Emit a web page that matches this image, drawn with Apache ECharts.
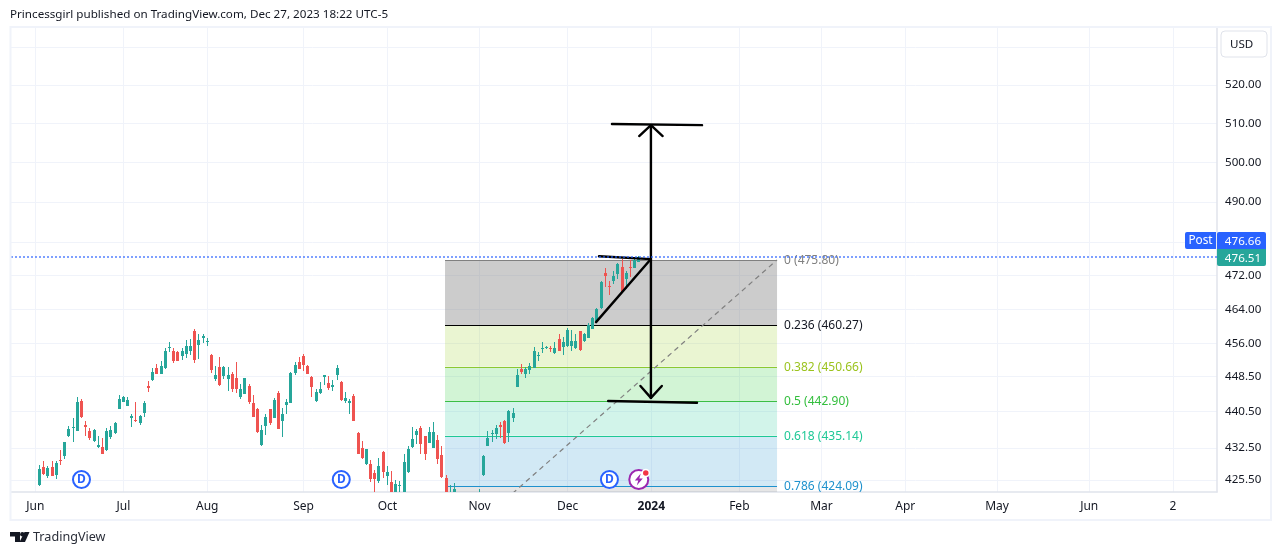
<!DOCTYPE html>
<html>
<head>
<meta charset="utf-8">
<title>SPY</title>
<script src="https://cdn.jsdelivr.net/npm/echarts@6/dist/echarts.min.js"></script>
<style>
html, body { margin: 0; padding: 0; background: #fff; }
#main { width: 1281px; height: 555px; }
</style>
</head>
<body>
<div id="main"></div>
<script>
var uiFont = '"Noto Sans", sans-serif';

var opens = [418.0,
    424.3, 428.4, 426.4, 428.4, 426.5, 429.9, 430.8, 435.1, 437.0, 436.1,
    442.9, 437.6, 436.2, 433.9, 432.7, 432.7, 432.1, 434.9, 435.8, 441.1,
    442.7, 441.8, 439.1, 438.7, 438.0, 440.2, 446.3, 447.7, 450.4, 449.0,
    450.4, 455.0, 454.3, 454.1, 453.1, 453.6, 454.3, 458.9, 455.7, 457.3,
    456.4, 453.4, 447.9, 450.6, 448.6, 447.9, 449.0, 448.1, 443.8, 444.5,
    446.3, 442.5, 441.1, 433.2, 437.3, 441.1, 439.1, 444.7, 438.4, 442.0,
    442.5, 449.3, 451.8, 453.1, 450.9, 448.4, 442.9, 444.7, 448.4, 447.0,
    446.1, 448.8, 447.2, 442.9, 442.5, 444.0, 435.8, 432.5, 429.0, 429.0,
    427.0, 425.3, 431.6, 426.4, 425.1, 421.3, 424.3, 420.0, 427.3, 432.7,
    435.4, 436.9, 435.1, 433.6, 432.5, 434.3, 431.0, 426.0, 419.6, 422.6,
    421.9, 416.5, 414.2, 413.6, 416.2, 419.2, 426.5, 433.0, 435.6, 435.6,
    437.6, 438.4, 435.8, 439.1, 446.1, 450.2, 449.0, 450.0, 450.4, 453.1,
    454.9, 455.0, 455.0, 453.8, 457.1, 455.2, 455.5, 455.5, 455.0, 458.9,
    456.6, 457.3, 459.4, 461.3, 464.3, 472.7, 469.6, 470.8, 472.4, 474.1,
    471.2, 474.0, 473.9, 475.3];
var closes = [421.8,
    427.9, 426.8, 428.1, 426.4, 429.2, 429.6, 433.8, 436.7, 437.1, 442.7,
    439.3, 437.0, 434.7, 436.5, 433.2, 431.2, 436.2, 436.5, 438.0, 443.4,
    443.7, 443.2, 439.6, 438.4, 439.6, 442.5, 445.8, 449.5, 449.0, 450.9,
    454.3, 455.2, 452.0, 452.0, 454.2, 455.5, 455.5, 452.2, 456.9, 457.8,
    456.6, 450.0, 448.8, 446.5, 450.6, 448.8, 445.6, 445.6, 445.6, 448.1,
    442.7, 439.3, 436.0, 436.5, 439.3, 438.0, 443.2, 436.7, 440.0, 442.7,
    449.3, 451.1, 450.2, 451.1, 449.0, 446.1, 444.9, 445.6, 448.7, 445.8,
    446.5, 450.4, 443.2, 443.6, 442.8, 438.4, 431.2, 430.3, 432.3, 425.8,
    425.8, 428.6, 427.3, 427.3, 421.6, 424.7, 424.5, 429.4, 432.3, 434.5,
    436.2, 433.4, 431.2, 436.0, 436.0, 430.1, 426.2, 421.2, 420.5, 423.5,
    417.6, 412.6, 410.7, 415.6, 418.2, 422.7, 430.7, 434.7, 435.8, 436.9,
    437.1, 433.6, 440.7, 440.2, 448.8, 449.5, 450.2, 450.9, 454.3, 453.4,
    455.1, 455.2, 454.7, 455.0, 454.3, 456.4, 459.2, 456.6, 456.6, 454.5,
    458.2, 460.3, 462.0, 464.1, 470.5, 472.0, 469.4, 472.0, 474.8, 468.1,
    472.7, 473.8, 475.8, 476.5];
var lows = [417.0,
    424.1, 426.5, 426.0, 426.3, 425.8, 428.8, 430.1, 434.8, 433.7, 436.1,
    439.0, 435.2, 434.3, 433.7, 432.5, 431.2, 431.9, 434.5, 435.6, 441.1,
    442.6, 441.8, 437.1, 438.2, 437.6, 439.3, 444.9, 447.4, 449.0, 449.0,
    450.2, 454.1, 451.6, 452.0, 452.2, 452.7, 453.4, 451.6, 452.5, 456.2,
    455.5, 449.3, 447.4, 446.3, 447.9, 445.2, 444.9, 444.7, 443.4, 444.5,
    442.3, 439.3, 435.8, 433.0, 435.4, 437.6, 439.1, 436.7, 434.9, 440.0,
    442.5, 448.8, 450.2, 449.7, 449.0, 443.8, 442.7, 444.5, 446.5, 445.4,
    445.2, 447.7, 442.9, 442.5, 440.0, 438.4, 431.2, 430.1, 428.8, 425.1,
    422.9, 424.9, 426.0, 424.5, 420.2, 420.0, 421.0, 417.8, 427.0, 432.5,
    433.4, 431.2, 429.9, 433.6, 432.5, 429.0, 426.0, 420.7, 417.5, 421.0,
    417.0, 411.6, 409.2, 412.2, 414.2, 418.4, 426.4, 433.0, 433.8, 434.5,
    434.7, 433.4, 433.8, 438.2, 446.1, 449.0, 448.1, 449.0, 450.4, 452.0,
    453.8, 454.8, 454.1, 453.6, 454.3, 453.4, 455.2, 454.3, 454.8, 454.3,
    456.4, 457.3, 459.4, 460.8, 464.1, 469.3, 467.4, 470.0, 471.2, 467.9,
    468.8, 471.8, 473.9, 475.3];
var highs = [422.0,
    428.8, 429.7, 428.6, 429.7, 429.7, 432.1, 433.8, 437.3, 439.1, 443.7,
    443.3, 438.4, 436.9, 436.7, 435.1, 434.7, 436.9, 437.3, 438.2, 444.3,
    444.0, 443.8, 440.0, 442.7, 439.8, 442.9, 447.4, 450.4, 451.3, 452.0,
    455.0, 456.4, 455.0, 454.3, 455.0, 456.9, 457.1, 459.4, 458.2, 458.2,
    457.3, 453.6, 450.9, 452.9, 450.9, 450.6, 449.5, 451.8, 446.7, 448.1,
    446.7, 444.3, 441.4, 437.6, 440.0, 441.1, 443.6, 445.2, 441.4, 443.4,
    449.5, 451.8, 452.9, 453.6, 451.1, 448.6, 445.6, 447.2, 448.8, 448.6,
    447.7, 451.1, 447.4, 444.9, 443.4, 444.5, 436.0, 434.0, 432.3, 429.9,
    427.7, 430.3, 431.8, 428.6, 427.5, 425.5, 425.3, 431.1, 433.0, 437.1,
    436.7, 437.3, 435.1, 437.1, 438.2, 435.4, 433.0, 426.5, 424.5, 424.8,
    421.9, 417.3, 414.6, 416.7, 418.5, 423.5, 431.0, 436.2, 436.5, 437.6,
    438.1, 438.7, 440.9, 441.4, 450.2, 451.3, 450.6, 451.6, 455.2, 454.1,
    456.4, 455.5, 455.5, 456.4, 458.2, 457.6, 459.6, 459.2, 458.2, 458.9,
    458.5, 460.8, 462.2, 464.3, 470.8, 473.9, 470.8, 473.2, 475.1, 476.0,
    473.2, 475.8, 476.0, 476.8];

// time scale
var tickBars = [0, 21, 41, 64, 84, 106, 127, 147, 168, 187.6, 207.6, 229.5, 251.5, 271.5];
var tickNames = ['Jun', 'Jul', 'Aug', 'Sep', 'Oct', 'Nov', 'Dec', '2024', 'Feb', 'Mar', 'Apr', 'May', 'Jun', '2'];

// price scale
var priceMin = 422.9;
var priceMax = 535.27;
var priceLabels = [425.5, 432.5, 440.5, 448.5, 456, 464, 472, 490, 500, 510, 520];
var priceGrid = [425.5, 432.5, 440.5, 448.5, 456, 464, 472, 480, 490, 500, 510, 520, 530];
var lastPrice = 476.66;

// fib retracement
var fibStart = 97.76;
var fibEnd = 177;
var fibLevels = ['0', '0.236', '0.382', '0.5', '0.618', '0.786', '1'];
var fibPrices = [475.80, 460.27, 450.66, 442.90, 435.14, 424.09, 410.00];
var fibLines = ['#808080', '#000000', '#8cc832', '#3cbe46', '#1ec896', '#1e91cd', '#808080'];
var fibText = ['#808080', '#131722', '#9bc31e', '#32be3c', '#1ec896', '#1e91cd', '#808080'];
var fibFills = ['rgba(128,128,128,0.4)', 'rgba(150,205,30,0.2)', 'rgba(30,200,45,0.2)', 'rgba(30,200,150,0.2)', 'rgba(30,145,205,0.2)', 'rgba(128,128,128,0.2)'];

// hand drawn lines on the chart: bar, price, bar, price
var sketchLines = [
    [137.6, 509.8, 159.1, 509.5],
    [146.9, 509.5, 146.9, 443.6],
    [144.1, 506.7, 146.9, 509.5],
    [149.7, 506.7, 146.9, 509.5],
    [144.4, 446.3, 146.9, 443.6],
    [149.5, 446.3, 146.9, 443.6],
    [136.7, 442.9, 157.9, 442.5],
    [133.8, 461.0, 146.9, 476.0],
    [134.5, 476.7, 146.9, 476.0]
];

// dividend and earnings-style event markers
var eventPrice = 425.6;
var dividendBars = [11, 73, 137];
var flashBars = [144];

var candleData = [];
for (var i = 0; i < opens.length; i++) {
    candleData.push([i, opens[i], closes[i], lows[i], highs[i]]);
}

var fibData = [];
for (var i = 0; i < fibPrices.length - 1; i++) {
    fibData.push([fibStart, fibPrices[i], i]);
}

// the built in candlestick rounds its boxes to 2 or 4 px here and does not clip them at the
// pane edge, so draw a steady 3 px body and 1 px wick instead
function renderCandle(params, api) {
    var bar = api.value(0);
    var open = api.value(1);
    var close = api.value(2);
    var color = close >= open ? '#26a69a' : '#ef5350';
    var x = Math.floor(api.coord([bar, open])[0]);
    var yHigh = Math.round(api.coord([bar, api.value(4)])[1]);
    var yLow = Math.round(api.coord([bar, api.value(3)])[1]);
    var yTop = Math.round(api.coord([bar, Math.max(open, close)])[1]);
    var yBottom = Math.round(api.coord([bar, Math.min(open, close)])[1]);
    return {
        type: 'group',
        children: [{
            type: 'rect',
            shape: { x: x, y: yHigh, width: 1, height: Math.max(yLow - yHigh, 1) },
            style: { fill: color }
        }, {
            type: 'rect',
            shape: { x: x - 1, y: yTop, width: 3, height: Math.max(yBottom - yTop, 1) },
            style: { fill: color }
        }]
    };
}

function renderFib(params, api) {
    var idx = api.value(2);
    var top = api.coord([fibStart, fibPrices[idx]]);
    var bottom = api.coord([fibEnd, fibPrices[idx + 1]]);
    var y = Math.round(top[1]) + 0.5;
    return {
        type: 'group',
        children: [{
            type: 'rect',
            shape: { x: top[0], y: y, width: bottom[0] - top[0], height: bottom[1] - y },
            style: { fill: fibFills[idx] }
        }, {
            type: 'line',
            shape: { x1: top[0], y1: y, x2: bottom[0], y2: y },
            style: { stroke: fibLines[idx], lineWidth: 1 }
        }, {
            type: 'text',
            x: bottom[0] + 7,
            y: y + 0.5,
            style: {
                text: fibLevels[idx] + ' (' + fibPrices[idx].toFixed(2) + ')',
                fill: fibText[idx],
                font: '12px ' + uiFont,
                verticalAlign: 'middle'
            }
        }]
    };
}

function renderFibTrend(params, api) {
    var a = api.coord([api.value(0), api.value(1)]);
    var b = api.coord([api.value(2), api.value(3)]);
    return {
        type: 'line',
        shape: { x1: a[0], y1: a[1], x2: b[0], y2: b[1] },
        style: { stroke: '#808080', lineWidth: 1.2, lineDash: [5, 4] }
    };
}

function renderSketch(params, api) {
    var a = api.coord([api.value(0), api.value(1)]);
    var b = api.coord([api.value(2), api.value(3)]);
    return {
        type: 'line',
        shape: { x1: a[0], y1: a[1], x2: b[0], y2: b[1] },
        style: { stroke: '#000000', lineWidth: 2.4, lineCap: 'round' }
    };
}

function renderFlash(params, api) {
    var c = api.coord([api.value(0), api.value(1)]);
    return {
        type: 'group',
        x: c[0],
        y: c[1],
        children: [{
            type: 'circle',
            shape: { cx: 0, cy: 0, r: 9.5 },
            style: { fill: '#ffffff', stroke: '#9c27b0', lineWidth: 2 }
        }, {
            type: 'polygon',
            shape: { points: [[2, -6], [-4, 1], [-0.5, 1], [-2, 6], [4, -1], [0.5, -1]] },
            style: { fill: '#9c27b0' }
        }, {
            type: 'circle',
            shape: { cx: 7, cy: -6.5, r: 3.5 },
            style: { fill: '#f23645', stroke: '#ffffff', lineWidth: 1.5 }
        }]
    };
}

var chart = echarts.init(document.getElementById('main'), null, { renderer: 'canvas' });

var option = {
    animation: false,
    backgroundColor: '#ffffff',
    textStyle: { fontFamily: uiFont },
    grid: { left: 11, right: 64, top: 28, bottom: 63, show: false },
    xAxis: {
        type: 'value',
        min: -5.823,
        max: 282,
        axisLine: { onZero: false, lineStyle: { color: '#e0e3eb', width: 1.5 } },
        axisTick: { show: false, customValues: tickBars },
        splitLine: { show: true, lineStyle: { color: '#f0f3fa', width: 1 } },
        axisLabel: {
            customValues: tickBars,
            margin: 9,
            color: '#131722',
            fontSize: 12,
            fontFamily: uiFont,
            hideOverlap: false,
            formatter: function (v) {
                var name = tickNames[tickBars.indexOf(v)];
                return name === '2024' ? '{b|2024}' : name;
            },
            rich: { b: { fontWeight: 'bold', fontSize: 12, color: '#131722', fontFamily: uiFont } }
        }
    },
    yAxis: {
        type: 'log',
        position: 'right',
        min: priceMin,
        max: priceMax,
        axisLine: { show: true, onZero: false, lineStyle: { color: '#e0e3eb', width: 1.5 } },
        axisTick: { show: false, customValues: priceGrid },
        splitLine: { show: true, lineStyle: { color: '#f0f3fa', width: 1 } },
        minorSplitLine: { show: false },
        axisLabel: {
            customValues: priceLabels,
            margin: 8,
            color: '#131722',
            fontSize: 11.6,
            fontFamily: uiFont,
            hideOverlap: false,
            padding: [2, 0, 0, 0],
            formatter: function (v) { return Number(v).toFixed(2); }
        }
    },
    series: [{
        type: 'custom',
        name: 'fib',
        z: 1,
        clip: true,
        renderItem: renderFib,
        encode: { x: 0, y: 1 },
        data: fibData,
        silent: true
    }, {
        type: 'custom',
        name: 'fibTrend',
        z: 1,
        clip: true,
        renderItem: renderFibTrend,
        encode: { x: [0, 2], y: [1, 3] },
        data: [[fibStart, fibPrices[6], fibEnd, fibPrices[0]]],
        silent: true
    }, {
        type: 'custom',
        name: 'SPY',
        z: 2,
        clip: true,
        renderItem: renderCandle,
        encode: { x: 0, y: [1, 2, 3, 4] },
        data: candleData,
        silent: true,
        markLine: {
            silent: true,
            symbol: 'none',
            label: { show: false },
            lineStyle: { color: '#2962ff', type: [2, 2], width: 1.5, opacity: 0.8 },
            data: [{ yAxis: lastPrice }]
        }
    }, {
        type: 'scatter',
        name: 'dividends',
        z: 3,
        symbol: 'circle',
        symbolSize: 17,
        itemStyle: { color: '#ffffff', borderColor: '#2962ff', borderWidth: 2, opacity: 1 },
        label: {
            show: true,
            position: 'inside',
            formatter: 'D',
            color: '#2962ff',
            fontSize: 12,
            fontWeight: 'bold',
            fontFamily: uiFont
        },
        data: dividendBars.map(function (b) { return [b, eventPrice]; }),
        silent: true
    }, {
        type: 'custom',
        name: 'flash',
        z: 3,
        renderItem: renderFlash,
        encode: { x: 0, y: 1 },
        data: flashBars.map(function (b) { return [b, eventPrice]; }),
        silent: true
    }, {
        type: 'custom',
        name: 'sketch',
        z: 4,
        renderItem: renderSketch,
        encode: { x: [0, 2], y: [1, 3] },
        data: sketchLines,
        silent: true
    }],
    graphic: [
        {
            type: 'rect', z: 100, silent: true,
            shape: { x: 10.5, y: 27, width: 1260.5, height: 493 },
            style: { fill: 'none', stroke: '#f0f3fa', lineWidth: 2 }
        },
        {
            type: 'text', z: 100, x: 10, y: 15, silent: true,
            style: {
                text: 'Princessgirl published on TradingView.com, Dec 27, 2023 18:22 UTC-5',
                fill: '#131722', font: '11.65px ' + uiFont, verticalAlign: 'middle'
            }
        },
        {
            type: 'rect', z: 100, silent: true,
            shape: { x: 1221, y: 31, width: 46, height: 26, r: 4 },
            style: { fill: '#ffffff', stroke: '#e0e3eb', lineWidth: 1 }
        },
        {
            type: 'text', z: 101, x: 1230, y: 45, silent: true,
            style: { text: 'USD', fill: '#131722', font: '11.6px ' + uiFont, verticalAlign: 'middle' }
        },
        {
            type: 'rect', z: 100, silent: true,
            shape: { x: 1185, y: 232, width: 31, height: 17, r: [2, 0, 0, 2] },
            style: { fill: '#2962ff' }
        },
        {
            type: 'text', z: 101, x: 1200.5, y: 241, silent: true,
            style: { text: 'Post', fill: '#ffffff', font: '11.8px ' + uiFont, align: 'center', verticalAlign: 'middle' }
        },
        {
            type: 'rect', z: 100, silent: true,
            shape: { x: 1217, y: 232, width: 49, height: 17, r: [2, 2, 0, 0] },
            style: { fill: '#2962ff' }
        },
        {
            type: 'text', z: 101, x: 1243, y: 242, silent: true,
            style: { text: '476.66', fill: '#ffffff', font: '11.6px ' + uiFont, align: 'center', verticalAlign: 'middle' }
        },
        {
            type: 'rect', z: 100, silent: true,
            shape: { x: 1217, y: 249, width: 49, height: 17, r: [0, 0, 2, 2] },
            style: { fill: '#26a69a' }
        },
        {
            type: 'text', z: 101, x: 1243, y: 259, silent: true,
            style: { text: '476.51', fill: '#ffffff', font: '11.6px ' + uiFont, align: 'center', verticalAlign: 'middle' }
        },
        // TradingView logo
        {
            type: 'polygon', z: 100, silent: true,
            shape: { points: [[10, 532], [20, 532], [20, 542], [15, 542], [15, 536.5], [10, 536.5]] },
            style: { fill: '#131722' }
        },
        {
            type: 'circle', z: 100, silent: true,
            shape: { cx: 22.3, cy: 534.2, r: 2.2 },
            style: { fill: '#131722' }
        },
        {
            type: 'polygon', z: 100, silent: true,
            shape: { points: [[24.5, 532], [29.5, 532], [25, 542], [19.5, 542]] },
            style: { fill: '#131722' }
        },
        {
            type: 'text', z: 100, x: 33, y: 537.5, silent: true,
            style: { text: 'TradingView', fill: '#2a2e39', font: '12.6px ' + uiFont, verticalAlign: 'middle' }
        }
    ]
};

chart.setOption(option);
</script>
</body>
</html>
